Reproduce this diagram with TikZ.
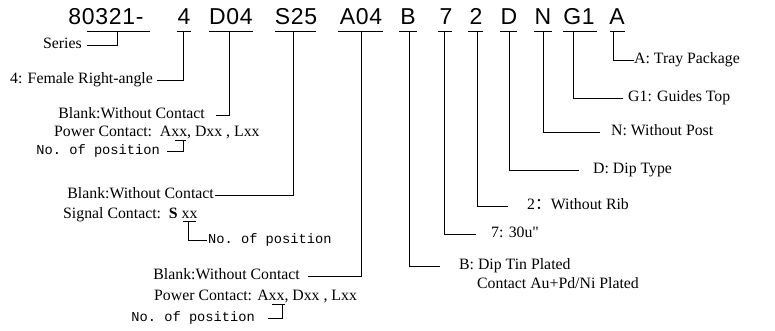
\documentclass[tikz,border=0pt]{standalone}
\usepackage{fontspec}
\setmainfont{Liberation Serif}
\setmonofont{Liberation Mono}
\newfontfamily\codefont[LetterSpace=3]{Liberation Sans}
\newfontfamily\cjk{Noto Sans CJK SC}
\newcommand{\inchmark}{\XeTeXglyph\XeTeXcharglyph"22\relax}

\begin{document}
\begin{tikzpicture}[x=1pt, y=-1pt,
    code/.style={anchor=base, inner sep=0pt, font=\codefont\fontsize{23}{26}\selectfont},
    lbl/.style={inner sep=0pt, text height=10pt, text depth=3pt, font=\fontsize{15.8}{18}\selectfont},
    npos/.style={inner sep=0pt, text height=9pt, text depth=3pt, font=\ttfamily\fontsize{13.7}{16}\selectfont},
    conn/.style={line width=0.8pt}]
  \useasboundingbox (0,0) rectangle (775,331);

  % Part number, piece by piece
  \node[code] (cSer) at (106,25) {80321-};
  \node[code] (cFem) at (184,25) {4};
  \node[code] (cD04) at (231,25) {D04};
  \node[code] (cS25) at (296,25) {S25};
  \node[code] (cA04) at (361,25) {A04};
  \node[code] (cB) at (408,25) {B};
  \node[code] (cSeven) at (446,25) {7};
  \node[code] (cTwo) at (476,25) {2};
  \node[code] (cDip) at (509,25) {D};
  \node[code] (cN) at (543,25) {N};
  \node[code] (cG) at (579,25) {G1};
  \node[code] (cTray) at (617,25) {A};

  % Underlines below the pieces
  \draw[conn] (87,31) -- (150,31);
  \draw[conn] (177,31) -- (191,31);
  \draw[conn] (209,31) -- (253,31);
  \draw[conn] (275,31) -- (316,31);
  \draw[conn] (338,31) -- (383,31);
  \draw[conn] (399,31) -- (417,31);
  \draw[conn] (438,31) -- (452,31);
  \draw[conn] (468,31) -- (483,31);
  \draw[conn] (500,31) -- (517,31);
  \draw[conn] (534,31) -- (552,31);
  \draw[conn] (563,31) -- (597,31);
  \draw[conn] (610,31) -- (625,31);

  % Leader start points on the underlines
  \coordinate (uSer) at (117,31);
  \coordinate (uFem) at (183,31);
  \coordinate (uD04) at (229,31);
  \coordinate (uS25) at (293,31);
  \coordinate (uA04) at (361,31);
  \coordinate (uB) at (409,31);
  \coordinate (uSeven) at (444,31);
  \coordinate (uTwo) at (477,31);
  \coordinate (uDip) at (509,31);
  \coordinate (uN) at (543,31);
  \coordinate (uG) at (573,31);
  \coordinate (uTray) at (613,31);

  % Left hand labels
  \node[lbl, anchor=east] (lSer) at (82,45) {Series};
  \node[lbl, anchor=east] (lFem) at (153,80) {4: Female Right-angle};

  \node[lbl, anchor=east] (lD04a) at (205,115) {Blank:Without Contact};
  \node[lbl, anchor=west] (lD04b) at (54,133) {Power Contact:\ \ Axx, Dxx , Lxx};
  \node[npos, anchor=east] (lD04c) at (160,151) {No. of position};

  \node[lbl, anchor=east] (lS25a) at (214,195) {Blank:Without Contact};
  \node[lbl, anchor=west] (lS25b) at (63,215) {Signal Contact:\ \ \textbf{S} xx};
  \node[npos, anchor=west] (lS25c) at (208,240) {No. of position};

  \node[lbl, anchor=east] (lA04a) at (300,276) {Blank:Without Contact};
  \node[lbl, anchor=west] (lA04b) at (154,297) {Power Contact: Axx, Dxx , Lxx};
  \node[npos, anchor=east] (lA04c) at (255,318) {No. of position};

  % Right hand labels
  \node[lbl, anchor=west] (lB) at (459,266) {B: Dip Tin Plated};
  \node[lbl, anchor=west] (lBb) at (477,285) {Contact Au+Pd/Ni Plated};
  \node[lbl, anchor=west] (lSeven) at (491,234) {7: 30u\inchmark};
  \node[lbl, anchor=west] (lTwo) at (527,206) {2{\cjk ：}Without Rib};
  \node[lbl, anchor=west] (lDip) at (593,170) {D: Dip Type};
  \node[lbl, anchor=west] (lN) at (611,132) {N: Without Post};
  \node[lbl, anchor=west] (lG) at (628,98) {G1: Guides Top};
  \node[lbl, anchor=west] (lTray) at (634,60) {A: Tray Package};

  % Leaders
  \draw[conn] (uSer) |- ([xshift=5pt]lSer.east);
  \draw[conn] (uFem) |- ([xshift=4pt]lFem.east);
  \draw[conn] (uD04) |- ([xshift=11pt]lD04a.east);
  \draw[conn] (uS25) |- ([xshift=1pt]lS25a.east);
  \draw[conn] (uA04) |- ([xshift=8pt]lA04a.east);
  \draw[conn] (uB) |- ([xshift=-19pt]lB.west);
  \draw[conn] (uSeven) |- ([xshift=-15pt]lSeven.west);
  \draw[conn] (uTwo) |- ([xshift=-19pt]lTwo.west);
  \draw[conn] (uDip) |- ([xshift=-14pt]lDip.west);
  \draw[conn] (uN) |- ([xshift=-11pt]lN.west);
  \draw[conn] (uG) |- ([xshift=-5pt]lG.west);
  \draw[conn] (uTray) |- (lTray.west);

  % Position counts under the xx
  \draw[conn] (175,140) -- (186,140);
  \coordinate (xD04) at (183,140);
  \draw[conn] (xD04) |- ([xshift=7pt]lD04c.east);
  \draw[conn] (183,221) -- (196,221);
  \coordinate (xS25) at (188,221);
  \draw[conn] (xS25) |- ([xshift=-1pt]lS25c.west);
  \draw[conn] (272,304) -- (285,304);
  \coordinate (xA04) at (282,304);
  \draw[conn] (xA04) |- ([xshift=13pt]lA04c.east);
\end{tikzpicture}
\end{document}
